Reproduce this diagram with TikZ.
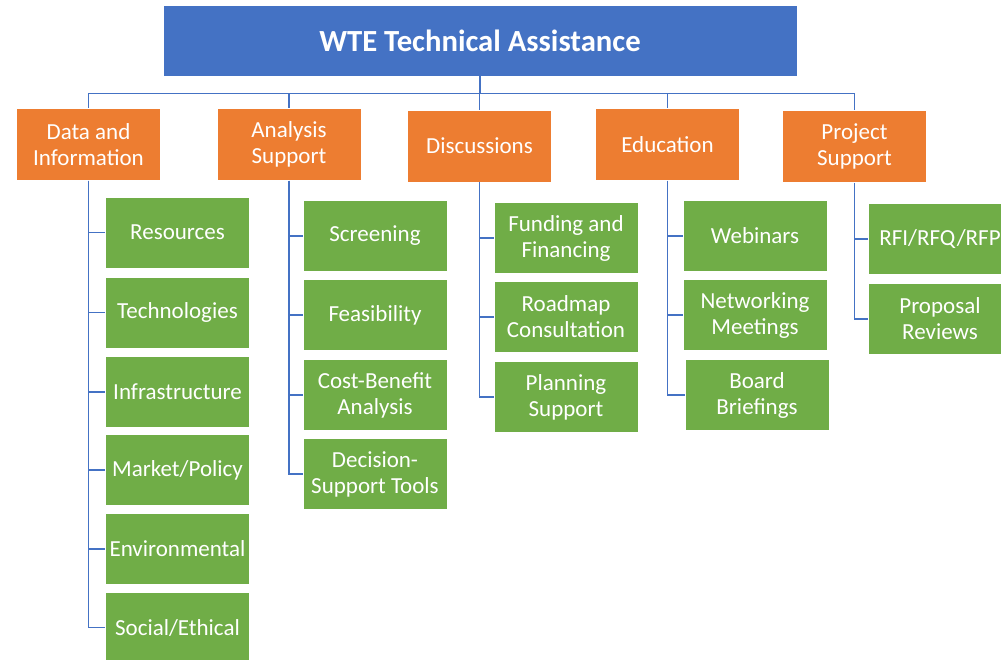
\documentclass[tikz,border=0pt]{standalone}
\usepackage{fontspec}
\setmainfont{Carlito}
\definecolor{wteblue}{HTML}{4472C4}
\definecolor{wteorange}{HTML}{ED7D31}
\definecolor{wtegreen}{HTML}{70AD47}
\tikzset{
  topbox/.style={fill=wteblue, draw=white, line width=0.8pt, text=white, minimum width=634pt, minimum height=71pt, inner sep=0pt, font=\fontsize{30.7}{34}\selectfont\bfseries},
  catbox/.style={fill=wteorange, draw=white, line width=0.8pt, text=white, minimum width=144pt, minimum height=72pt, inner sep=0pt, align=center, font=\fontsize{23}{26}\selectfont},
  itembox/.style={fill=wtegreen, draw=white, line width=0.8pt, text=white, minimum width=144pt, minimum height=71pt, inner sep=0pt, align=center, font=\fontsize{23}{26}\selectfont},
  conn/.style={draw=wteblue, line width=1.4pt}
}
\begin{document}
\begin{tikzpicture}[x=1pt, y=-1pt]
\useasboundingbox (0,0) rectangle (1001,660);

\node[topbox] (top) at (480,40.5) {WTE Technical Assistance};

\node[catbox] (data) at (88.5,144.5) {Data and\\Information};
\node[catbox] (anal) at (289,144.5) {Analysis\\Support};
\node[catbox] (disc) at (479.5,146) {Discussions};
\node[catbox] (educ) at (667.5,144.5) {Education};
\node[catbox] (proj) at (854.5,146.5) {Project\\Support};

\node[itembox] (data1) at (177.5,232.5) {Resources};
\node[itembox] (data2) at (177.5,312.5) {Technologies};
\node[itembox] (data3) at (177.5,392) {Infrastructure};
\node[itembox] (data4) at (177.5,470) {Market/Policy};
\node[itembox] (data5) at (177.5,549) {Environmental};
\node[itembox] (data6) at (177.5,627.5) {Social/Ethical};

\node[itembox] (anal1) at (375,236) {Screening};
\node[itembox] (anal2) at (375,315) {Feasibility};
\node[itembox] (anal3) at (375,395) {Cost-Benefit\\Analysis};
\node[itembox] (anal4) at (375,474) {Decision-\\Support Tools};

\node[itembox] (disc1) at (566,238) {Funding and\\Financing};
\node[itembox] (disc2) at (566,317) {Roadmap\\Consultation};
\node[itembox] (disc3) at (566,397) {Planning\\Support};

\node[itembox] (educ1) at (755,236) {Webinars};
\node[itembox] (educ2) at (755,315) {Networking\\Meetings};
\node[itembox] (educ3) at (757,395) {Board\\Briefings};

\node[itembox] (proj1) at (940,239) {RFI/RFQ/RFP};
\node[itembox] (proj2) at (940,319) {Proposal\\Reviews};

\foreach \c in {data,anal,disc,educ,proj}
  \draw[conn] (top.south) -- ++(0,17) -| (\c.north);

\foreach \c/\n in {data/6,anal/4,disc/3,educ/3,proj/2}
  \foreach \i in {1,...,\n}
    \draw[conn] (\c.south) |- (\c\i.west);
\end{tikzpicture}
\end{document}
